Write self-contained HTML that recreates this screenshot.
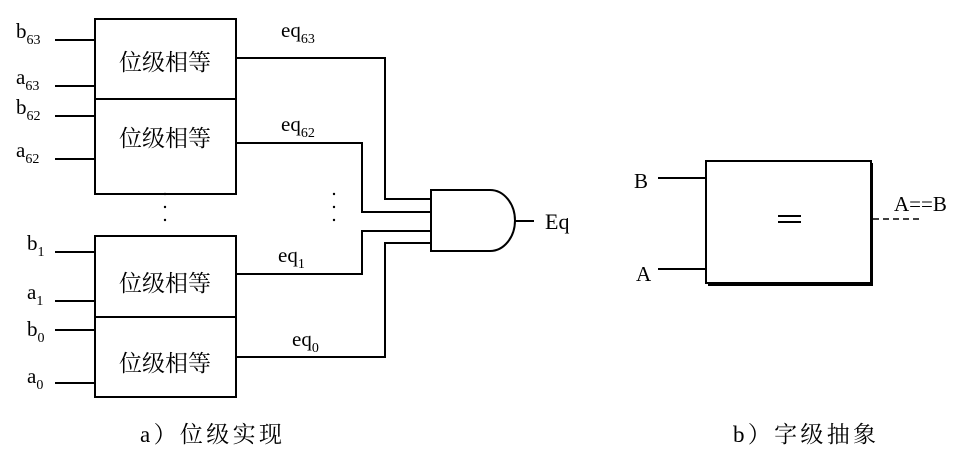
<!DOCTYPE html>
<html><head><meta charset="utf-8"><style>
body{margin:0;background:#fff}
svg text{font-family:"Liberation Serif","Noto Serif CJK SC",serif;fill:#000}
.cj{font-family:"Liberation Serif","Noto Serif CJK SC",serif}
</style></head><body>
<svg width="971" height="454" viewBox="0 0 971 454" xmlns="http://www.w3.org/2000/svg">
<g stroke="#000" stroke-width="2" fill="none">
<rect x="95" y="19" width="141" height="175" fill="#fff"/>
<line x1="95" y1="99" x2="236" y2="99"/>
<rect x="95" y="236" width="141" height="161" fill="#fff"/>
<line x1="95" y1="317" x2="236" y2="317"/>
<path d="M55 40H95M55 86H95M55 116H95M55 159H95M55 252H95M55 301H95M55 330H95M55 383H95"/>
<path d="M236 58H385V199H431M236 143H362V212H431M236 274H362V231H431M236 357H385V243H431"/>
<path d="M431 190H490A25 30.5 0 0 1 490 251H431Z" fill="#fff"/>
<line x1="515" y1="221" x2="534" y2="221"/>
<rect x="706" y="161" width="165" height="122"/>
<path d="M872 163V285H708" stroke-width="2"/>
<path d="M658 178H706M658 269H706"/>
<path d="M873 219H920" stroke-dasharray="6,4" stroke-width="1.5"/>
<path d="M778 216H801M778 222H801" stroke-width="2"/>
</g>
<g fill="#000">
<circle cx="165" cy="194" r="1.2"/><circle cx="165" cy="207" r="1.2"/><circle cx="165" cy="220" r="1.2"/>
<circle cx="334" cy="194" r="1.2"/><circle cx="334" cy="207" r="1.2"/><circle cx="334" cy="220" r="1.2"/>
</g>
<g font-size="21">
<text x="16" y="38">b<tspan font-size="14" dy="6">63</tspan></text>
<text x="16" y="84">a<tspan font-size="14" dy="6">63</tspan></text>
<text x="16" y="114">b<tspan font-size="14" dy="6">62</tspan></text>
<text x="16" y="157">a<tspan font-size="14" dy="6">62</tspan></text>
<text x="27" y="250">b<tspan font-size="14" dy="6">1</tspan></text>
<text x="27" y="299">a<tspan font-size="14" dy="6">1</tspan></text>
<text x="27" y="336">b<tspan font-size="14" dy="6">0</tspan></text>
<text x="27" y="383">a<tspan font-size="14" dy="6">0</tspan></text>
<text x="281" y="37">eq<tspan font-size="14" dy="6">63</tspan></text>
<text x="281" y="131">eq<tspan font-size="14" dy="6">62</tspan></text>
<text x="278" y="262">eq<tspan font-size="14" dy="6">1</tspan></text>
<text x="292" y="346">eq<tspan font-size="14" dy="6">0</tspan></text>
<text x="545" y="229" font-size="22">Eq</text>
<text x="634" y="188">B</text>
<text x="636" y="281">A</text>
<text x="894" y="211">A==B</text>
</g>
<g class="cj" font-size="23" text-anchor="middle">
<text x="165" y="70" class="cj">位级相等</text>
<text x="165" y="146" class="cj">位级相等</text>
<text x="165" y="291" class="cj">位级相等</text>
<text x="165" y="371" class="cj">位级相等</text>
</g>
<text x="140" y="442" font-size="23" textLength="142" class="cj">a）位级实现</text>
<text x="733" y="442" font-size="23" textLength="143" class="cj">b）字级抽象</text>
</svg>
</body></html>
